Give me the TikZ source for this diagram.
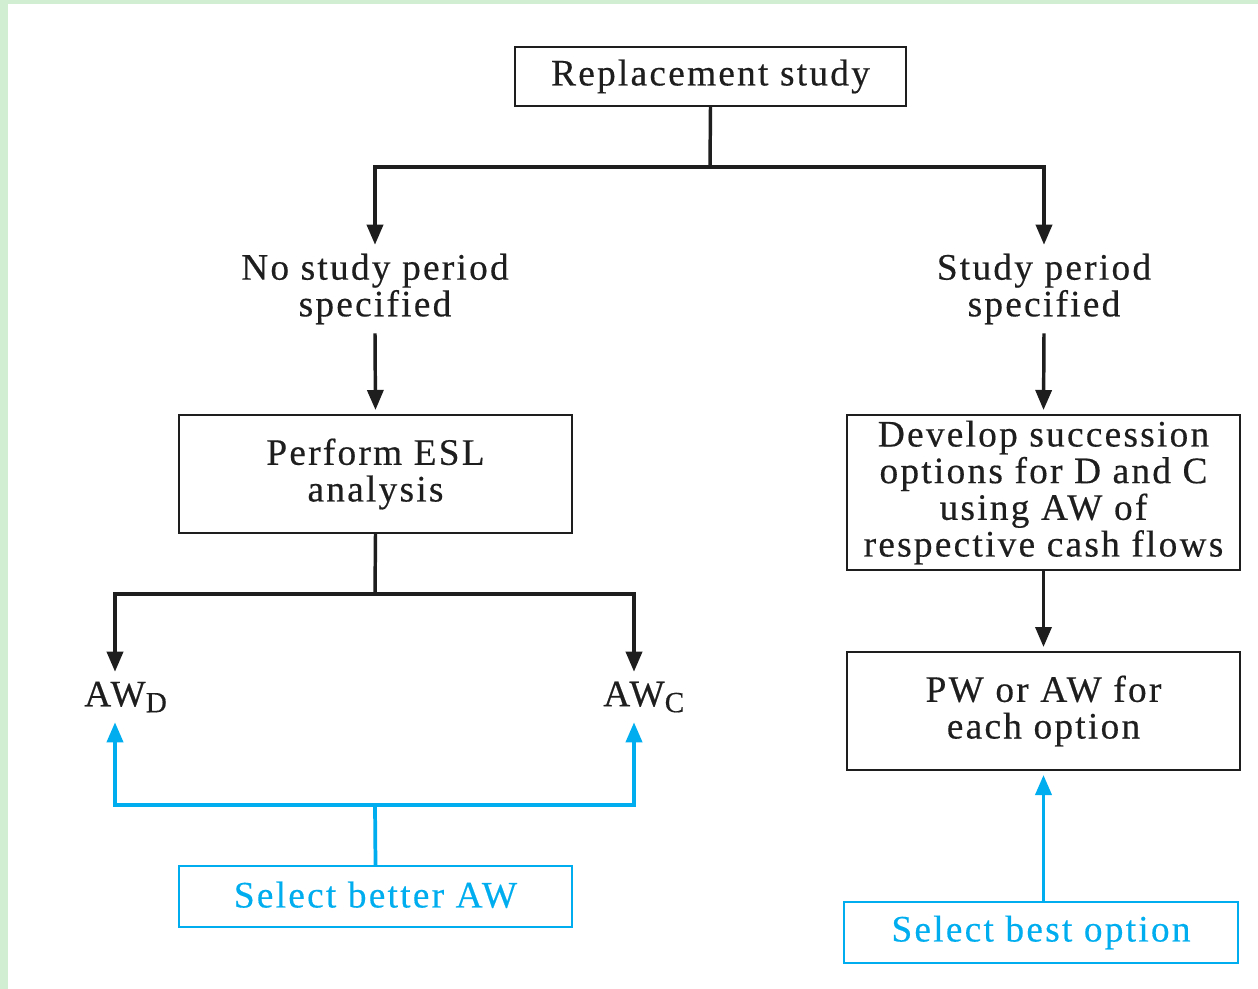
\documentclass[tikz,border=0pt]{standalone}
\usepackage{fontspec}
\setmainfont{Liberation Serif}[LetterSpace=6,FakeBold=0.4]
\usetikzlibrary{arrows.meta}
\definecolor{cyanb}{RGB}{0,174,239}
\definecolor{bgreen}{RGB}{210,238,210}
\definecolor{inkc}{RGB}{30,30,30}
\begin{document}
\begin{tikzpicture}[x=0.75pt,y=-0.75pt,
  txt/.style={font=\fontsize{28}{27.5}\selectfont, align=center, text=inkc},
  bbox/.style={txt, draw=inkc, line width=1.5pt, inner sep=0pt},
  cbox/.style={txt, text=cyanb, draw=cyanb, line width=1.5pt, inner sep=0pt},
  plain/.style={txt, inner sep=0pt},
  bline/.style={draw=inkc, line width=2.6pt},
  cline/.style={draw=cyanb, line width=2.8pt},
  arr/.style={-{Triangle[length=15pt,width=12pt]}}
]
\useasboundingbox (0,0) rectangle (1258,989);
\fill[bgreen] (0,0) rectangle (1258,989);
\fill[white] (8,4) rectangle (1258,989);

\node[bbox, minimum width=293.25pt, minimum height=44.25pt] (top) at (710.5,76.5) {Replacement study};
\node[plain, minimum height=66pt] (nsp) at (375,289) {No study period\\specified};
\node[plain, minimum height=66pt] (sp) at (1044,289) {Study period\\specified};
\node[bbox, minimum width=294.75pt, minimum height=88.5pt] (esl) at (375.5,474) {Perform ESL\\analysis};
\node[bbox, minimum width=294.75pt, minimum height=116.25pt] (dev) at (1043.5,492.5) {Develop succession\\options for D and C\\using AW of\\respective cash flows};
\node[bbox, minimum width=294.75pt, minimum height=88.5pt] (pw) at (1043.5,711) {PW or AW for\\each option};
\node[plain, minimum height=37.5pt] (awd) at (115,697) {AW\rlap{\raisebox{-0.35ex}{\fontsize{22}{22}\selectfont D}}};
\node[plain, minimum height=37.5pt] (awc) at (634,697) {AW\rlap{\raisebox{-0.35ex}{\fontsize{22}{22}\selectfont C}}};
\node[cbox, minimum width=294.75pt, minimum height=45.75pt] (sba) at (375.5,896.5) {\raisebox{3pt}{Select better AW}};
\node[cbox, minimum width=295.5pt, minimum height=45.75pt] (sbo) at (1041,932.5) {\raisebox{2pt}{Select best option}};

\coordinate (j0) at (710,167);
\coordinate (j1) at (375,594);
\coordinate (j2) at (375,805);

\draw[bline] (top.south) -- (j0);
\draw[bline, arr] (j0) -| (nsp.north);
\draw[bline, arr] (j0) -| (sp.north);
\draw[bline, arr, shorten >=3pt] (nsp.south) -- (esl.north);
\draw[bline, arr, shorten >=3pt] (sp.south) -- (dev.north);
\draw[bline] (esl.south) -- (j1);
\draw[bline, arr] (j1) -| (awd.north);
\draw[bline, arr] (j1) -| (awc.north);
\draw[bline, arr, shorten >=3pt] (dev.south) -- (pw.north);

\draw[cline] (sba.north) -- (j2);
\draw[cline, arr] (j2) -| (awd.south);
\draw[cline, arr] (j2) -| (awc.south);
\draw[cline, arr, shorten >=3pt] (pw.south |- sbo.north) -- (pw.south);
\end{tikzpicture}
\end{document}
